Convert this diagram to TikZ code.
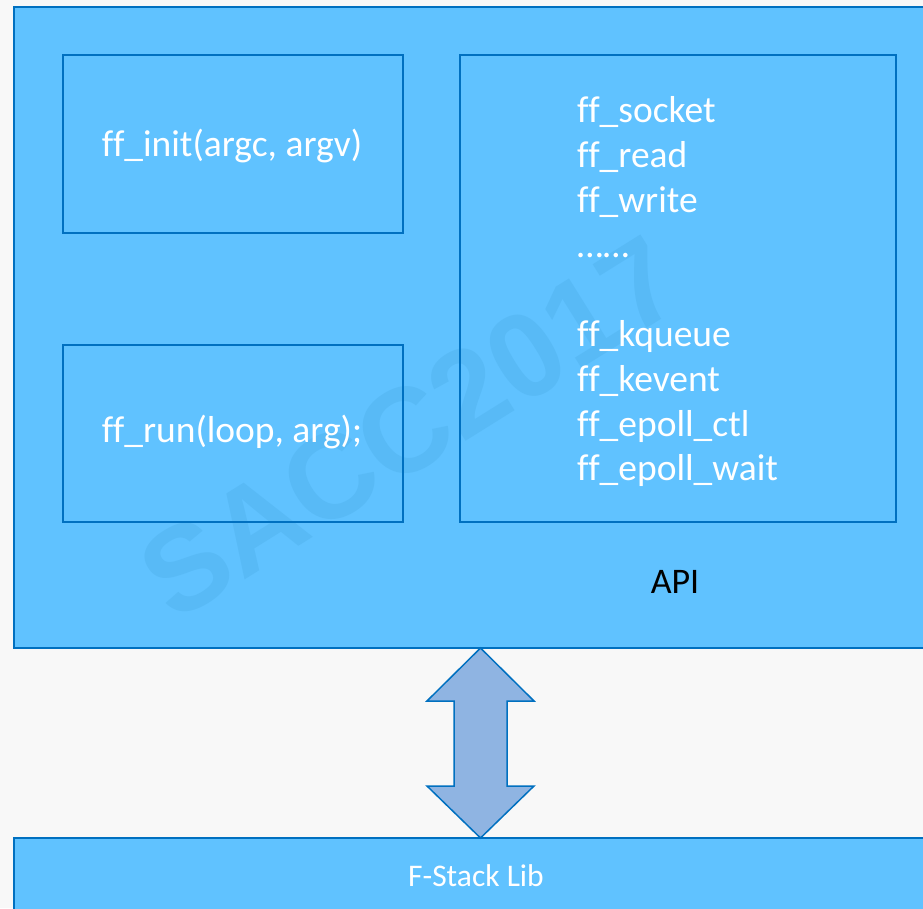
\documentclass[tikz,border=0pt]{standalone}
\usepackage{fontspec}
\setmainfont{Carlito}[Ligatures=NoCommon]
\newfontfamily\wmfont{Liberation Sans}
\definecolor{pagebg}{RGB}{248,248,248}
\definecolor{boxfill}{RGB}{96,194,255}
\definecolor{boxline}{RGB}{0,112,192}
\definecolor{arrowfill}{RGB}{143,180,226}
\definecolor{wmark}{RGB}{88,186,246}
\begin{document}
\begin{tikzpicture}[x=1pt,y=1pt]
\tikzset{
  panel/.style={draw=boxline,fill=boxfill,line width=2pt},
  inner/.style={draw=boxline,line width=2pt},
  wtext/.style={text=white,font=\fontsize{37.5}{44.75}\selectfont,inner sep=0pt},
}
\useasboundingbox (0,0) rectangle (923,908);
\fill[pagebg] (0,0) rectangle (923,908);
% outer API panel
\draw[panel] (14,260) rectangle (940,901);
% watermark
\node[text=wmark,font=\wmfont\fontsize{120}{120}\bfseries\selectfont,rotate=32,inner sep=0pt] (wm) at (410,480) {SACC2017};
% inner boxes
\draw[inner] (63,675) rectangle (403,853);
\draw[inner] (63,386) rectangle (403,563);
\draw[inner] (460,386) rectangle (896,853);
\node[wtext,anchor=base] (init) at (232,751) {ff\_init(argc, argv)};
\node[wtext,anchor=base] (run) at (232,465) {ff\_run(loop, arg);};
\node[wtext,anchor=base west] (list) at (577,785) {\begin{tabular}[t]{@{}l@{}}ff\_socket\\ff\_read\\ff\_write\\……\\ \\ff\_kqueue\\ff\_kevent\\ff\_epoll\_ctl\\ff\_epoll\_wait\end{tabular}};
\node[font=\fontsize{36}{40}\selectfont,text=black,inner sep=0pt] (api) at (675,326) {API};
% bottom lib panel
\draw[panel] (14,70) rectangle (940,-20);
\node[text=white,font=\fontsize{31.5}{36}\selectfont,anchor=base] (lib) at (476,22) {F-Stack Lib};
% double arrow
\coordinate (top) at (480.5,260);
\coordinate (bot) at (480.5,70);
\draw[draw=boxline,fill=arrowfill,line width=1.5pt,line join=miter]
  (top) -- ++(53.5,-53) -- ++(-27,0) -- ++(0,-85) -- ++(27,0) -- (bot)
  -- ++(-53.5,52) -- ++(27,0) -- ++(0,85) -- ++(-27,0) -- cycle;
\end{tikzpicture}
\end{document}
